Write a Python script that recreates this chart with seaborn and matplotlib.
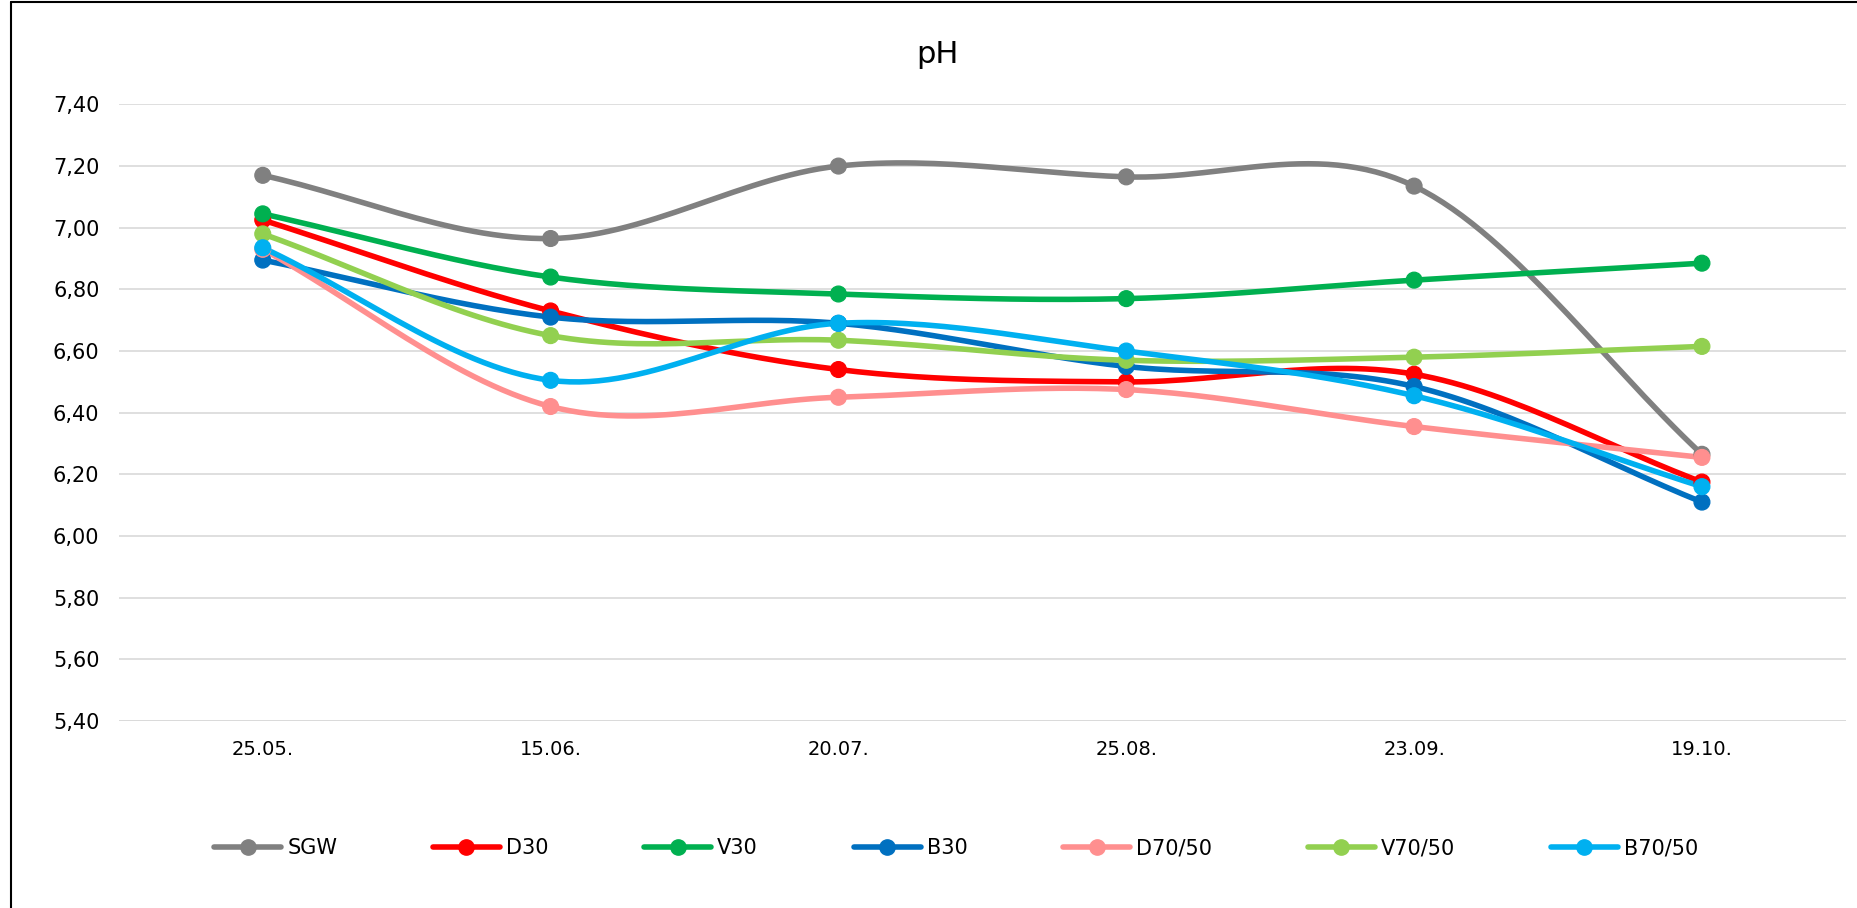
import numpy as np
import pandas as pd
import matplotlib
matplotlib.use("Agg")
import matplotlib.pyplot as plt
import seaborn as sns

dates = ["25.05.", "15.06.", "20.07.", "25.08.", "23.09.", "19.10."]
sgw = [7.17, 6.965, 7.20, 7.165, 7.135, 6.265]
d30 = [7.025, 6.73, 6.54, 6.50, 6.525, 6.175]
v30 = [7.045, 6.84, 6.785, 6.77, 6.83, 6.885]
b30 = [6.895, 6.71, 6.69, 6.55, 6.485, 6.11]
d70 = [6.93, 6.42, 6.45, 6.475, 6.355, 6.255]
v70 = [6.98, 6.65, 6.635, 6.57, 6.58, 6.615]
b70 = [6.935, 6.505, 6.69, 6.60, 6.455, 6.16]

series = {"SGW": sgw, "D30": d30, "V30": v30, "B30": b30,
          "D70/50": d70, "V70/50": v70, "B70/50": b70}
colors = {"SGW": "#808080", "D30": "#FF0000", "V30": "#00B050", "B30": "#0070C0",
          "D70/50": "#FF8F8F", "V70/50": "#92D050", "B70/50": "#00B0F0"}

rows = []
for name, vals in series.items():
    for i, v in enumerate(vals):
        rows.append({"x": i, "pH": v, "Series": name})
df = pd.DataFrame(rows)


def smooth(y, n=30):
    # Catmull-Rom spline, similar to Excel's smoothed line
    y = np.asarray(y, float)
    p = np.concatenate([[2 * y[0] - y[1]], y, [2 * y[-1] - y[-2]]])
    xs, ys = [], []
    for i in range(len(y) - 1):
        t = np.linspace(0, 1, n, endpoint=False)
        p0, p1, p2, p3 = p[i], p[i + 1], p[i + 2], p[i + 3]
        seg = 0.5 * (2 * p1 + (-p0 + p2) * t + (2 * p0 - 5 * p1 + 4 * p2 - p3) * t ** 2
                     + (-p0 + 3 * p1 - 3 * p2 + p3) * t ** 3)
        xs.append(i + t)
        ys.append(seg)
    xs.append([len(y) - 1])
    ys.append([y[-1]])
    return np.concatenate(xs), np.concatenate(ys)


sns.set_style("white")
plt.rcParams["text.color"] = "black"
plt.rcParams["xtick.color"] = "black"
plt.rcParams["ytick.color"] = "black"
fig = plt.figure(figsize=(18.57, 9.08), dpi=100)
ax = fig.add_axes([0.064, 0.206, 0.93, 0.679])

for name, vals in series.items():
    sx, sy = smooth(vals)
    ax.plot(sx, sy, color=colors[name], lw=4, zorder=2)
sns.scatterplot(data=df, x="x", y="pH", hue="Series", palette=colors, s=130,
                edgecolor=None, ax=ax, legend=False, zorder=3)

ax.set_ylim(5.4, 7.4)
ax.set_xlim(-0.5, 5.5)
ax.set_yticks(np.arange(5.4, 7.41, 0.2))
ax.set_yticklabels([f"{v:.2f}".replace(".", ",") for v in np.arange(5.4, 7.41, 0.2)], fontsize=15)
ax.set_xticks(range(6))
ax.set_xticklabels(dates, fontsize=14)
ax.grid(axis="y", color="#D9D9D9", lw=1.2)
ax.tick_params(length=0, pad=14)
for s in ax.spines.values():
    s.set_visible(False)
ax.axhline(5.4, color="#D9D9D9", lw=1.2, zorder=1)
ax.set_xlabel("")
ax.set_ylabel("")
fig.text(0.505, 0.94, "pH", ha="center", va="center", fontsize=22)

handles = [plt.Line2D([], [], color=colors[n], lw=4, marker="o", markersize=11) for n in series]
fig.legend(handles, list(series.keys()), loc="center", bbox_to_anchor=(0.515, 0.066), ncol=7,
           frameon=False, fontsize=15, handlelength=3.2, handletextpad=0.3, columnspacing=4.6)

fig.add_artist(plt.Line2D([0.006, 0.006], [0, 0.998], color="black", lw=1.5, transform=fig.transFigure))
fig.add_artist(plt.Line2D([0.006, 1], [0.998, 0.998], color="black", lw=1.5, transform=fig.transFigure))

fig.savefig("out.png", dpi=100)
